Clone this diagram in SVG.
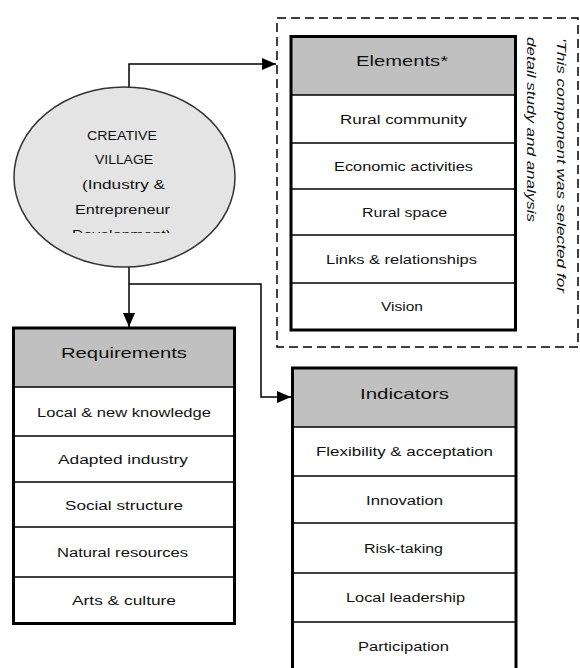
<svg xmlns="http://www.w3.org/2000/svg" width="580" height="668" viewBox="0 0 580 668">
<defs>
<marker id="arr" viewBox="0 0 14 12" refX="14" refY="6" markerWidth="14" markerHeight="12" markerUnits="userSpaceOnUse" orient="auto">
<path d="M0,0 L14,6 L0,12 z" fill="#000"/>
</marker>
<clipPath id="ellClip"><rect x="0" y="0" width="260" height="233"/></clipPath>
</defs>
<style>
text{font-family:"Liberation Sans",Arial,sans-serif;fill:#111;text-anchor:middle;}
.hd{font-size:15px;}
.bd{font-size:12.5px;}
.hdr{fill:#c0c0c0;stroke:none;}
.cell{fill:#fff;stroke:none;}
.outer{fill:none;stroke:#000;stroke-width:3;}
.sep{stroke:#000;stroke-width:1.5;}
.conn{fill:none;stroke:#000;stroke-width:1.5;}
.note{font-size:13px;font-style:italic;text-anchor:start;}
</style>
<rect width="580" height="668" fill="#fff"/>

<g id="connectors">
<path class="conn" d="M129,87 V64 H276" marker-end="url(#arr)"/>
<path class="conn" d="M129,267 V327" marker-end="url(#arr)"/>
<path class="conn" d="M129,284 H261 V397 H291" marker-end="url(#arr)"/>
</g>

<g id="creative-village">
<ellipse cx="124.5" cy="177" rx="110.5" ry="90" fill="#e4e4e4" stroke="#333" stroke-width="1.5"/>
<g clip-path="url(#ellClip)" class="bd">
<text x="122" y="140" textLength="70" lengthAdjust="spacingAndGlyphs" class="bd">CREATIVE</text>
<text x="124" y="164" textLength="58" lengthAdjust="spacingAndGlyphs" class="bd">VILLAGE</text>
<text x="123.5" y="188.5" textLength="83" lengthAdjust="spacingAndGlyphs" class="bd">(Industry &amp;</text>
<text x="122.5" y="214" textLength="95" lengthAdjust="spacingAndGlyphs" class="bd">Entrepreneur</text>
<text x="121.5" y="239" textLength="99" lengthAdjust="spacingAndGlyphs" class="bd">Development)</text>
</g>
</g>

<g id="elements-group">
<rect x="277" y="18" width="301" height="329" fill="none" stroke="#000" stroke-width="1.5" stroke-dasharray="9 5"/>
<g id="elements">
<rect class="hdr" x="291" y="36.5" width="224.5" height="58.5"/>
<line class="sep" x1="291" y1="95" x2="515.5" y2="95"/>
<line class="sep" x1="291" y1="143" x2="515.5" y2="143"/>
<line class="sep" x1="291" y1="189" x2="515.5" y2="189"/>
<line class="sep" x1="291" y1="235" x2="515.5" y2="235"/>
<line class="sep" x1="291" y1="283" x2="515.5" y2="283"/>
<rect class="outer" x="291" y="36.5" width="224.5" height="293.5"/>
<text class="hd" x="402" y="66" textLength="92" lengthAdjust="spacingAndGlyphs">Elements*</text>
<text class="bd" x="403.5" y="124" textLength="127" lengthAdjust="spacingAndGlyphs">Rural community</text>
<text class="bd" x="403.5" y="171" textLength="139" lengthAdjust="spacingAndGlyphs">Economic activities</text>
<text class="bd" x="404.5" y="217" textLength="85" lengthAdjust="spacingAndGlyphs">Rural space</text>
<text class="bd" x="401.5" y="264" textLength="151" lengthAdjust="spacingAndGlyphs">Links &amp; relationships</text>
<text class="bd" x="402" y="311" textLength="42" lengthAdjust="spacingAndGlyphs">Vision</text>
</g>
<g id="note">
<text class="note" transform="translate(557,38) rotate(90)" textLength="255" lengthAdjust="spacingAndGlyphs">'This component was selected for</text>
<text class="note" transform="translate(527,37) rotate(90)" textLength="185" lengthAdjust="spacingAndGlyphs">detail study and analysis</text>
</g>
</g>

<g id="requirements">
<rect class="hdr" x="13.5" y="328" width="221" height="59"/>
<line class="sep" x1="13.5" y1="387" x2="234.5" y2="387"/>
<line class="sep" x1="13.5" y1="436" x2="234.5" y2="436"/>
<line class="sep" x1="13.5" y1="482" x2="234.5" y2="482"/>
<line class="sep" x1="13.5" y1="527" x2="234.5" y2="527"/>
<line class="sep" x1="13.5" y1="577" x2="234.5" y2="577" stroke-width="2.5"/>
<rect class="outer" x="13.5" y="328" width="221" height="295.5"/>
<text class="hd" x="124" y="358" textLength="126" lengthAdjust="spacingAndGlyphs">Requirements</text>
<text class="bd" x="124" y="416.5" textLength="174" lengthAdjust="spacingAndGlyphs">Local &amp; new knowledge</text>
<text class="bd" x="123" y="464" textLength="130" lengthAdjust="spacingAndGlyphs">Adapted industry</text>
<text class="bd" x="124" y="509.5" textLength="118" lengthAdjust="spacingAndGlyphs">Social structure</text>
<text class="bd" x="122.5" y="557" textLength="131" lengthAdjust="spacingAndGlyphs">Natural resources</text>
<text class="bd" x="124" y="605" textLength="104" lengthAdjust="spacingAndGlyphs">Arts &amp; culture</text>
</g>

<g id="indicators">
<rect class="hdr" x="292.5" y="368" width="223.5" height="59"/>
<line class="sep" x1="292.5" y1="427" x2="516" y2="427"/>
<line class="sep" x1="292.5" y1="476" x2="516" y2="476"/>
<line class="sep" x1="292.5" y1="523" x2="516" y2="523"/>
<line class="sep" x1="292.5" y1="573" x2="516" y2="573"/>
<line class="sep" x1="292.5" y1="622" x2="516" y2="622"/>
<rect class="outer" x="292.5" y="368" width="223.5" height="330"/>
<text class="hd" x="404.5" y="399" textLength="89" lengthAdjust="spacingAndGlyphs">Indicators</text>
<text class="bd" x="404.5" y="456" textLength="177" lengthAdjust="spacingAndGlyphs">Flexibility &amp; acceptation</text>
<text class="bd" x="404.5" y="504.5" textLength="77" lengthAdjust="spacingAndGlyphs">Innovation</text>
<text class="bd" x="403.5" y="553" textLength="79" lengthAdjust="spacingAndGlyphs">Risk-taking</text>
<text class="bd" x="405.5" y="602" textLength="119" lengthAdjust="spacingAndGlyphs">Local leadership</text>
<text class="bd" x="403.5" y="651" textLength="91" lengthAdjust="spacingAndGlyphs">Participation</text>
</g>
</svg>
